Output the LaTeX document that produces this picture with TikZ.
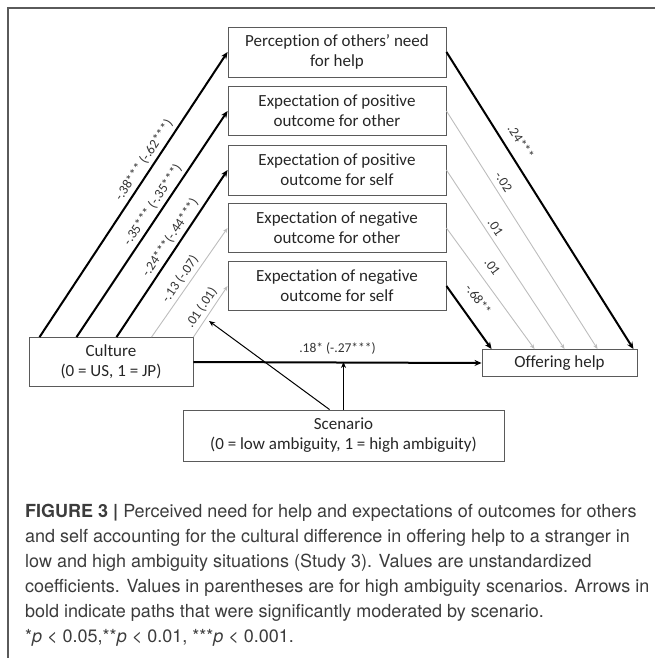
\documentclass[tikz,border=0pt]{standalone}
\usepackage{fontspec}
\setmainfont{Carlito}[Ligatures=NoCommon]
\newfontfamily\capfont{TeX Gyre Heros}
\usetikzlibrary{arrows.meta}

\definecolor{lightpath}{HTML}{BDBDBD}
\definecolor{boxline}{HTML}{5A5A5A}
\definecolor{captext}{HTML}{3C3C3C}

\tikzset{
	varbox/.style={draw=boxline, line width=0.9pt, align=center, inner sep=0pt, font=\fontsize{17}{20}\selectfont, text=black!85},
	strongpath/.style={line width=2pt, -{Stealth[length=7pt,width=6pt]}},
	weakpath/.style={lightpath, line width=0.9pt, -{Stealth[length=5pt,width=4pt]}},
	modpath/.style={line width=1pt, -{Stealth[length=6pt,width=5pt]}},
	coef/.style={font=\fontsize{13.5}{15}\selectfont, text=black!80, sloped, above},
}

\begin{document}
\begin{tikzpicture}[x=1pt, y=-1pt]
			\useasboundingbox (0,0) rectangle (657,658);
			\draw[boxline, line width=1.5pt] (8,658) -- (8,8) -- (655,8);

			% mediators
			\node[varbox, minimum width=218pt, minimum height=50pt] (need) at (337,52) {Perception of others’ need\\for help};
			\node[varbox, minimum width=218pt, minimum height=49pt] (posother) at (337,111) {Expectation of positive\\outcome for other};
			\node[varbox, minimum width=218pt, minimum height=50pt] (posself) at (337,170) {Expectation of positive\\outcome for self};
			\node[varbox, minimum width=218pt, minimum height=49pt] (negother) at (337,228) {Expectation of negative\\outcome for other};
			\node[varbox, minimum width=218pt, minimum height=49pt] (negself) at (337,286) {Expectation of negative\\outcome for self};

			\node[varbox, minimum width=164pt, minimum height=49pt] (cult) at (111,362) {Culture\\(0 = US, 1 = JP)};
			\node[varbox, minimum width=155pt, minimum height=27pt] (offer) at (559.5,363) {Offering help};
			\node[varbox, minimum width=321pt, minimum height=51pt] (scen) at (343.5,435.5) {Scenario\\(0 = low ambiguity, 1 = high ambiguity)};

			% culture -> mediators
			\draw[strongpath] ([xshift=11pt]cult.north west) -- node[coef, pos=0.6] {-.38*** (-.62***)} (need.west);
			\draw[strongpath] ([xshift=48pt]cult.north west) -- node[coef, pos=0.56] {-.35*** (-.35***)} (posother.west);
			\draw[strongpath] ([xshift=88pt]cult.north west) -- node[coef, pos=0.56] {-.24***(-.44***)} (posself.west);
			\draw[weakpath] ([xshift=123pt]cult.north west) -- node[coef, pos=0.48] {-.13 (-.07)} (negother.west);
			\draw[weakpath] (cult.north east) -- node[coef, pos=0.47] {.01 (.01)} (negself.west);

			% mediators -> offering help
			\draw[strongpath] (need.east) -- node[coef, pos=0.33, above=6pt] {.24***} ([xshift=-4pt]offer.north east);
			\draw[weakpath] (posother.east) -- node[coef, pos=0.32, above=2pt] {-.02} ([xshift=116pt]offer.north west);
			\draw[weakpath] (posself.east) -- node[coef, pos=0.35, above=1pt] {.01} ([xshift=83pt]offer.north west);
			\draw[weakpath] (negother.east) -- node[coef, pos=0.39, above=6pt] {.01} ([xshift=53pt]offer.north west);
			\draw[strongpath] (negself.east) -- node[coef, pos=0.38, above=9pt] {-.68**} ([xshift=10pt]offer.north west);

			% direct path
			\draw[strongpath] (cult.east) -- node[font=\fontsize{13.5}{15}\selectfont, text=black!80, above=4pt] {.18* (-.27***)} (offer.west);

			% moderation
			\coordinate (modtip) at (209,321);
			\draw[modpath] ([xshift=147pt]scen.north west) -- (modtip);
			\draw[modpath] (scen.north) -- (scen.north |- cult.east);

			\node[anchor=base west, align=left, inner sep=0pt, font=\capfont\fontsize{18}{25}\selectfont, text=captext] (cap) at (25,642) {\textbf{FIGURE 3 |} Perceived need for help and expectations of outcomes for others\\and self accounting for the cultural difference in offering help to a stranger in\\low and high ambiguity situations (Study 3). Values are unstandardized\\coefficients. Values in parentheses are for high ambiguity scenarios. Arrows in\\bold indicate paths that were significantly moderated by scenario.\\*\textit{p} < 0.05,**\textit{p} < 0.01, ***\textit{p} < 0.001.};
\end{tikzpicture}
\end{document}
